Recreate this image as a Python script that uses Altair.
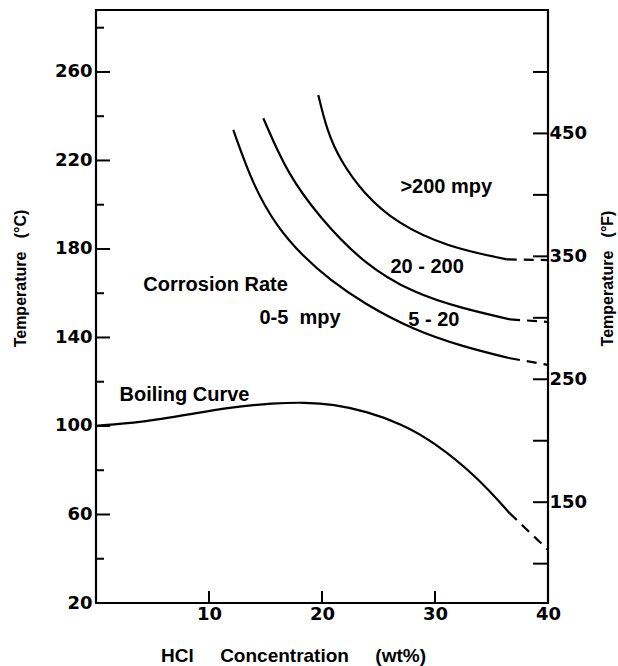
import altair as alt
import pandas as pd

# ---- data ----
# corrosion boundary 5-20 mpy (lower)
a_x = [12.15, 13.92, 15.99, 18.35, 20.71, 23.65, 28.08, 32.50, 36.64]
a_y = [233.8, 208.5, 190.1, 176.5, 166.0, 155.5, 143.4, 135.8, 130.6]
a_dx = [36.64, 40.0]
a_dy = [130.6, 127.6]
# corrosion boundary 20-200 mpy (middle)
b_x = [14.81, 16.88, 19.82, 23.65, 28.08, 32.52, 36.64]
b_y = [239.1, 214.5, 194.0, 173.5, 160.0, 153.0, 148.2]
b_dx = [36.64, 40.0]
b_dy = [148.2, 147.0]
# corrosion boundary >200 mpy (upper)
c_x = [19.67, 20.42, 21.59, 23.65, 26.61, 31.04, 36.35]
c_y = [249.6, 233.8, 220.2, 205.2, 191.6, 181.0, 175.3]
c_dx = [36.35, 40.0]
c_dy = [175.3, 175.0]
# boiling curve
boil_x = [0.0, 4.0, 8.3, 12.0, 15.7, 18.5, 21.0, 24.0, 27.0, 29.85, 33.7, 36.6]
boil_y = [100.1, 101.6, 105.3, 108.5, 110.3, 110.7, 109.8, 106.5, 101.0, 93.0, 77.2, 60.6]
boil_dx = [36.6, 40.0]
boil_dy = [60.6, 44.0]

# annotations
ann_text = ["Corrosion Rate", "0-5\u00a0\u00a0mpy", "Boiling Curve", "5 - 20", "20 - 200", ">200 mpy"]
ann_x = [10.58, 18.05, 7.83, 29.9, 29.3, 31.0]
ann_y = [163.9, 149.0, 114.1, 148.1, 172.0, 208.2]

# axes
x_labels = [10, 20, 30, 40]
x_ticks = [10, 20, 30]
c_labels = [20, 60, 100, 140, 180, 220, 260]
c_major_ticks = [60, 100, 140, 180, 220, 260]
c_minor_ticks = [40, 80, 120, 160, 200, 240, 280]
f_labels = [150, 250, 350, 450]
f_ticks = [100, 150, 200, 250, 300, 350, 400, 450, 500]

# ---- layout ----
W, H = 452, 593
YDOM = [20, 288]
FDOM = [YDOM[0] * 1.8 + 32, YDOM[1] * 1.8 + 32]
FONT = "Liberation Sans"
TICKFONT = "DejaVu Sans"


def ysc():
    return alt.Scale(domain=YDOM, nice=False, zero=False)


def xsc():
    return alt.Scale(domain=[0, 40], nice=False, zero=False)


rows = []
for name, sty, xs, ys in [
    ("a", "solid", a_x, a_y), ("a", "dash", a_dx, a_dy),
    ("b", "solid", b_x, b_y), ("b", "dash", b_dx, b_dy),
    ("c", "solid", c_x, c_y), ("c", "dash", c_dx, c_dy),
    ("boil", "solid", boil_x, boil_y), ("boil", "dash", boil_dx, boil_dy),
]:
    for i, (xv, yv) in enumerate(zip(xs, ys)):
        rows.append({"curve": name, "style": sty, "x": xv, "y": yv, "o": i})
df = pd.DataFrame(rows)


def x_axis():
    return alt.Axis(
        values=x_labels, ticks=False, domain=False, grid=False,
        labelFont=TICKFONT, labelFontSize=18, labelFontWeight="bold", labelColor="black",
        labelPadding=2, labelFlush=False,
        title="HCl\u00a0\u00a0\u00a0\u00a0\u00a0Concentration\u00a0\u00a0\u00a0\u00a0\u00a0(wt%)",
        titleFont=FONT, titleFontSize=19, titleFontWeight="bold", titleColor="black",
        titleX=197, titleY=52, titleAlign="center", titleBaseline="middle",
    )


def X(field="x"):
    return alt.X(f"{field}:Q", scale=xsc(), axis=x_axis())


left_axis = alt.Axis(
    values=c_labels, ticks=False, domain=False, grid=False,
    labelFont=TICKFONT, labelFontSize=18, labelFontWeight="bold", labelColor="black",
    labelPadding=4, labelFlush=False,
    title="Temperature\u00a0\u00a0\u00a0(\u00b0C)",
    titleFont=FONT, titleFontSize=16, titleFontWeight="bold", titleColor="black",
    titleX=-76, titleY=268, titleAngle=270, titleAlign="center", titleBaseline="middle",
)
right_axis = alt.Axis(
    orient="right", values=f_labels, ticks=False, domain=False, grid=False,
    labelFont=TICKFONT, labelFontSize=18, labelFontWeight="bold", labelColor="black",
    labelPadding=1, labelFlush=False,
    title="Temperature\u00a0\u00a0\u00a0(\u00b0F)",
    titleFont=FONT, titleFontSize=16, titleFontWeight="bold", titleColor="black",
    titleX=59, titleY=268, titleAngle=270, titleAlign="center", titleBaseline="middle",
)

base = alt.Chart(df)
solid = base.transform_filter(alt.datum.style == "solid").mark_line(
    color="black", strokeWidth=2.2, interpolate="basis"
).encode(
    x=X(),
    y=alt.Y("y:Q", scale=ysc(), axis=left_axis),
    detail="curve:N", order="o:Q",
)
dashed = base.transform_filter(alt.datum.style == "dash").mark_line(
    color="black", strokeWidth=2.2, strokeDash=[10, 7]
).encode(
    x=X(),
    y=alt.Y("y:Q", scale=ysc(), axis=None),
    detail="curve:N", order="o:Q",
)

ann_df = pd.DataFrame({"t": ann_text, "x": ann_x, "y": ann_y})
texts = alt.Chart(ann_df).mark_text(
    font=FONT, fontSize=20, fontWeight="bold", color="black", align="center", baseline="middle"
).encode(
    x=X(),
    y=alt.Y("y:Q", scale=ysc(), axis=None),
    text="t:N",
)

lmaj = alt.Chart(pd.DataFrame({"y": c_major_ticks})).mark_rule(color="black", strokeWidth=2).encode(
    y=alt.Y("y:Q", scale=ysc(), axis=None), x=alt.value(0), x2=alt.value(14)
)
lmin = alt.Chart(pd.DataFrame({"y": c_minor_ticks})).mark_rule(color="black", strokeWidth=2).encode(
    y=alt.Y("y:Q", scale=ysc(), axis=None), x=alt.value(0), x2=alt.value(8)
)
bt = alt.Chart(pd.DataFrame({"x": x_ticks})).mark_rule(color="black", strokeWidth=2).encode(
    x=X(), y=alt.value(H), y2=alt.value(H - 12)
)
rt = alt.Chart(pd.DataFrame({"f": f_ticks})).mark_rule(color="black", strokeWidth=2).encode(
    y=alt.Y("f:Q", scale=alt.Scale(domain=FDOM, nice=False, zero=False), axis=right_axis),
    x=alt.value(W - 15), x2=alt.value(W),
)

chart = alt.layer(solid, dashed, texts, lmaj, lmin, bt, rt).resolve_scale(
    y="independent"
).properties(
    width=W, height=H,
    autosize=alt.AutoSizeParams(type="none"),
    padding={"left": 96, "top": 10, "right": 70, "bottom": 63},
    background="white",
).configure_view(stroke="black", strokeWidth=2.2)

chart.save("out.html", embed_options={"renderer": "svg", "actions": False})
